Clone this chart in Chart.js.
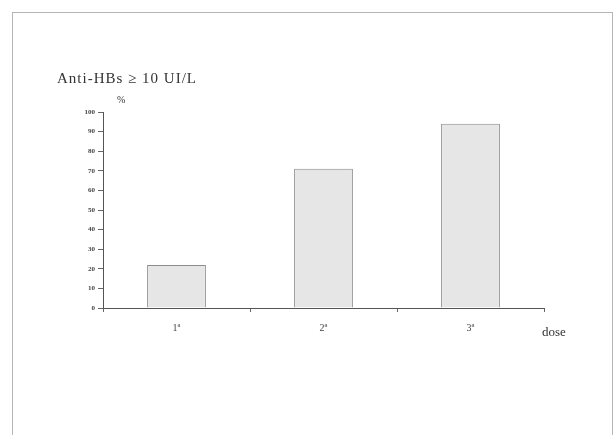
<!DOCTYPE html>
<html>
<head>
<meta charset="utf-8">
<script src="https://cdn.jsdelivr.net/npm/chart.js@4"></script>
<style>
  html, body { margin: 0; padding: 0; background: #fff; }
  #wrap { width: 616px; height: 435px; }
</style>
</head>
<body>
<div id="wrap"><canvas id="myChart" width="616" height="435"></canvas></div>
<script>
// data
var doses = ['1ª', '2ª', '3ª'];
var pct = [22, 71, 94];
var yTicks = [0, 10, 20, 30, 40, 50, 60, 70, 80, 90, 100];

var chartTitle = 'Anti-HBs ≥ 10 UI/L';
var yUnit = '%';
var xName = 'dose';

// frame + free texts
var extras = {
  id: 'extras',
  afterDraw: function (chart) {
    var c = chart.ctx;
    var a = chart.chartArea;
    c.save();
    c.strokeStyle = '#b5b5b5';
    c.lineWidth = 1;
    c.strokeRect(12.5, 12.5, 600, 440);
    c.fillStyle = '#333';
    c.textBaseline = 'alphabetic';
    c.font = '15px "Liberation Serif", serif';
    c.letterSpacing = '1px';
    c.fillText(chartTitle, 57, 83);
    c.letterSpacing = '0px';
    c.font = '10px "Liberation Serif", serif';
    c.fillText(yUnit, a.left + 14, a.top - 9);
    c.font = '13px "Liberation Serif", serif';
    c.fillText(xName, a.right - 2, a.bottom + 28);
    c.restore();
  }
};

var ctx = document.getElementById('myChart').getContext('2d');
var chart = new Chart(ctx, {
  type: 'bar',
  data: {
    labels: doses,
    datasets: [{
      data: pct,
      backgroundColor: '#e6e6e6',
      borderColor: '#8c8c8c',
      borderWidth: 1,
      categoryPercentage: 0.4,
      barPercentage: 1
    }]
  },
  options: {
    responsive: false,
    animation: false,
    layout: { padding: { left: 50, right: 72, top: 112, bottom: 97 } },
    plugins: {
      legend: { display: false },
      title: { display: false },
      tooltip: { enabled: false }
    },
    scales: {
      x: {
        offset: true,
        grid: { offset: true, drawOnChartArea: false, tickLength: 4, color: '#666' },
        border: { color: '#555', width: 1 },
        ticks: { color: '#444', font: { family: 'Liberation Serif', size: 10 }, padding: 10 },
        afterFit: function (s) { s.height = 30; }
      },
      y: {
        min: 0,
        max: 100,
        afterBuildTicks: function (s) { s.ticks = yTicks.map(function (v) { return { value: v }; }); },
        grid: { drawOnChartArea: false, tickLength: 5, color: '#666' },
        border: { color: '#555', width: 1 },
        ticks: { color: '#444', font: { family: 'Liberation Serif', size: 7, weight: 'bold' }, padding: 3 },
        afterFit: function (s) { s.width = 53; }
      }
    }
  },
  plugins: [extras]
});
</script>
</body>
</html>
